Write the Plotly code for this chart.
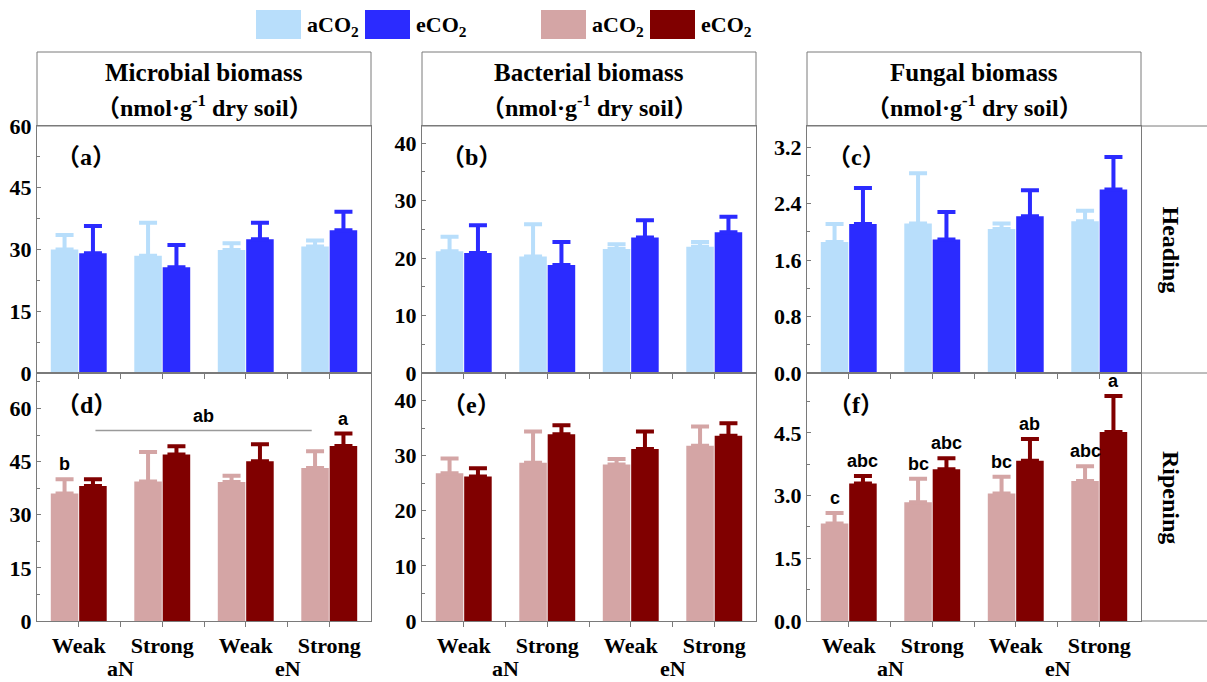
import plotly.graph_objects as go
from plotly.subplots import make_subplots

# ---------------- data ----------------
groups = ["Weak", "Strong", "Weak", "Strong"]
n_levels = ["aN", "eN"]
series_names = ["aCO<sub>2</sub>", "eCO<sub>2</sub>"]
titles = ["Microbial biomass", "Bacterial biomass", "Fungal biomass"]
unit_core = "nmol·g<sup>-1</sup> dry soil"
stages = ["Heading", "Ripening"]
panel_letters = ["a", "b", "c", "d", "e", "f"]

microbial_heading_a = [30.0, 28.5, 29.9, 30.7]
microbial_heading_a_err = [3.5, 8.0, 1.6, 1.5]
microbial_heading_e = [29.1, 25.7, 32.5, 34.7]
microbial_heading_e_err = [6.6, 5.4, 4.0, 4.5]
microbial_ripening_a = [36.0, 39.4, 39.2, 43.2]
microbial_ripening_a_err = [4.0, 8.3, 1.8, 4.7]
microbial_ripening_e = [38.1, 47.0, 45.1, 49.4]
microbial_ripening_e_err = [1.9, 2.3, 4.8, 3.5]

bacterial_heading_a = [21.2, 20.3, 21.6, 22.0]
bacterial_heading_a_err = [2.5, 5.6, 0.8, 0.8]
bacterial_heading_e = [20.9, 18.8, 23.6, 24.5]
bacterial_heading_e_err = [4.8, 4.0, 3.0, 2.7]
bacterial_ripening_a = [26.8, 28.7, 28.4, 31.8]
bacterial_ripening_a_err = [2.7, 5.7, 1.0, 3.5]
bacterial_ripening_e = [26.2, 33.9, 31.2, 33.6]
bacterial_ripening_e_err = [1.5, 1.6, 3.2, 2.3]

fungal_heading_a = [1.855, 2.12, 2.04, 2.15]
fungal_heading_a_err = [0.255, 0.71, 0.08, 0.15]
fungal_heading_e = [2.11, 1.89, 2.22, 2.60]
fungal_heading_e_err = [0.51, 0.39, 0.37, 0.46]
fungal_ripening_a = [2.33, 2.84, 3.05, 3.35]
fungal_ripening_a_err = [0.25, 0.56, 0.40, 0.35]
fungal_ripening_e = [3.29, 3.63, 3.83, 4.52]
fungal_ripening_e_err = [0.18, 0.26, 0.52, 0.86]

# significance letters (panel d and f)
letters_d_a = ["b", "", "", ""]
letters_d_e = ["", "", "", "a"]
letters_f_a = ["c", "bc", "bc", "abc"]
letters_f_e = ["abc", "abc", "ab", "a"]
bracket_d = {"x": [0.2, 2.79], "y": 53.8, "label": "ab"}

y_ranges = [[0, 60], [0, 43], [0, 3.5], [0, 70], [0, 45], [0, 5.93]]
y_dticks = [15, 10, 0.8, 15, 10, 1.5]
y_formats = ["d", "d", ".1f", "d", "d", ".1f"]

# ---------------- style ----------------
W, H = 1207, 682
C_LB, C_B = "#B8DEFB", "#2B2BFF"
C_LR, C_R = "#D4A5A5", "#800000"
AX = "#7a7a7a"
SERIF = "Liberation Serif"
SANS = "Liberation Sans"
CJK = "Noto Sans CJK SC"
BARGAP = 0.32


def cjk(ch):
    return "<span style='font-family:\"%s\"'>%s</span>" % (CJK, ch)


def paren(txt):
    return cjk("（") + txt + cjk("）")


col_px = [(37, 371), (422, 756), (807, 1141)]
row_px = [(126, 373), (373, 621)]
header_top = 52


def px(xp):
    return xp / W


def py(yp):
    return (H - yp) / H


fig = make_subplots(rows=2, cols=3)

panels = [
    (microbial_heading_a, microbial_heading_a_err, microbial_heading_e, microbial_heading_e_err),
    (bacterial_heading_a, bacterial_heading_a_err, bacterial_heading_e, bacterial_heading_e_err),
    (fungal_heading_a, fungal_heading_a_err, fungal_heading_e, fungal_heading_e_err),
    (microbial_ripening_a, microbial_ripening_a_err, microbial_ripening_e, microbial_ripening_e_err),
    (bacterial_ripening_a, bacterial_ripening_a_err, bacterial_ripening_e, bacterial_ripening_e_err),
    (fungal_ripening_a, fungal_ripening_a_err, fungal_ripening_e, fungal_ripening_e_err),
]

xpos = list(range(len(groups)))
for k, (va, ea, ve, ee) in enumerate(panels):
    r = k // 3 + 1
    c = k % 3 + 1
    ca, ce = (C_LB, C_B) if r == 1 else (C_LR, C_R)
    for vals, errs, col in ((va, ea, ca), (ve, ee, ce)):
        fig.add_trace(
            go.Bar(
                x=xpos, y=vals, marker=dict(color=col, line=dict(width=0)),
                error_y=dict(type="data", array=errs, arrayminus=[0] * len(errs),
                             symmetric=False, color=col, thickness=4, width=9),
                showlegend=False,
            ),
            row=r, col=c,
        )

fig.update_layout(barmode="group", bargap=BARGAP, bargroupgap=0.03)

tickfont = dict(family=SERIF, size=22, color="black", weight="bold")
for k in range(6):
    r = k // 3
    c = k % 3
    idx = "" if k == 0 else str(k + 1)
    x0, x1 = col_px[c]
    yt, yb = row_px[r]
    fig.layout["xaxis" + idx].update(
        domain=[px(x0), px(x1)], range=[-0.5, 3.5], tickmode="array",
        tickvals=xpos, ticktext=groups,
        showticklabels=(r == 1), ticks="outside", ticklen=5, tickcolor=AX,
        minor=dict(tickvals=[0.5, 1.5, 2.5], ticks="outside", ticklen=5, tickcolor=AX),
        showline=True, linecolor=AX, linewidth=1, mirror=True, showgrid=False,
        zeroline=False, tickfont=tickfont, fixedrange=True, automargin=False,
    )
    fig.layout["yaxis" + idx].update(
        domain=[py(yb), py(yt)], range=y_ranges[k], dtick=y_dticks[k], tick0=0,
        tickformat=y_formats[k], ticks="inside", ticklen=4, tickcolor=AX,
        minor=dict(dtick=y_dticks[k] / 2, ticks="inside", ticklen=3, tickcolor=AX),
        showline=True, linecolor=AX, linewidth=1, mirror=True, showgrid=False,
        zeroline=False, tickfont=tickfont, fixedrange=True, automargin=False,
    )
    fig.add_annotation(
        text=paren(panel_letters[k]), xref="x" + idx + " domain", yref="y" + idx + " domain",
        x=0.147, y=0.883, showarrow=False, xanchor="center", yanchor="middle",
        font=dict(family=SERIF, size=24, color="black", weight="bold"),
    )

shapes = []
annos = []
for c in range(3):
    x0, x1 = col_px[c]
    shapes.append(dict(type="rect", xref="paper", yref="paper", x0=px(x0), x1=px(x1),
                       y0=py(row_px[0][0]), y1=py(header_top), line=dict(color=AX, width=1)))
    annos.append(dict(text=titles[c], xref="paper", yref="paper", x=px((x0 + x1) / 2), y=py(72),
                      showarrow=False, xanchor="center", yanchor="middle",
                      font=dict(family=SERIF, size=25, color="black", weight="bold")))
    annos.append(dict(text=paren(unit_core), xref="paper", yref="paper", x=px((x0 + x1) / 2),
                      y=py(106), showarrow=False, xanchor="center", yanchor="middle",
                      font=dict(family=SERIF, size=24, color="black", weight="bold")))
    for j, lev in enumerate(n_levels):
        annos.append(dict(text=lev, xref="x%d" % (c + 4), yref="paper", x=0.5 + 2 * j, y=py(668),
                          showarrow=False, xanchor="center", yanchor="middle",
                          font=dict(family=SERIF, size=22, color="black", weight="bold")))

rx0 = col_px[2][1]
for yl in (row_px[0][0], row_px[0][1], row_px[1][1]):
    shapes.append(dict(type="line", xref="paper", yref="paper", x0=px(rx0), x1=1.0,
                       y0=py(yl), y1=py(yl), line=dict(color=AX, width=1)))
for r in range(2):
    yt, yb = row_px[r]
    annos.append(dict(text=stages[r], xref="paper", yref="paper", x=px(1171), y=py((yt + yb) / 2),
                      showarrow=False, textangle=90, xanchor="center", yanchor="middle",
                      font=dict(family=SERIF, size=24, color="black", weight="bold")))

leg = [(256, C_LB, series_names[0]), (365, C_B, series_names[1]),
       (541, C_LR, series_names[0]), (650, C_R, series_names[1])]
for xl, colr, name in leg:
    shapes.append(dict(type="rect", xref="paper", yref="paper", x0=px(xl), x1=px(xl + 45),
                       y0=py(39), y1=py(10), fillcolor=colr, line=dict(width=0)))
    annos.append(dict(text=name, xref="paper", yref="paper", x=px(xl + 49), y=py(26),
                      showarrow=False, xanchor="left", yanchor="middle",
                      font=dict(family=SERIF, size=22, color="black", weight="bold")))

off = (1 - BARGAP) / 4
letter_font = dict(family=SANS, size=18, color="black", weight="bold")
for axis_i, (la, le), (va, ea, ve, ee) in (
    (4, (letters_d_a, letters_d_e), panels[3]),
    (6, (letters_f_a, letters_f_e), panels[5]),
):
    for i in range(len(groups)):
        for lab, v, e, dx in ((la[i], va[i], ea[i], -off), (le[i], ve[i], ee[i], off)):
            if lab:
                annos.append(dict(text=lab, xref="x%d" % axis_i, yref="y%d" % axis_i,
                                  x=xpos[i] + dx, y=v + e, xanchor="center", yanchor="bottom",
                                  yshift=3, showarrow=False, font=letter_font))

shapes.append(dict(type="line", xref="x4", yref="y4", x0=bracket_d["x"][0], x1=bracket_d["x"][1],
                   y0=bracket_d["y"], y1=bracket_d["y"], line=dict(color="#9a9a9a", width=1.5)))
annos.append(dict(text=bracket_d["label"], xref="x4", yref="y4",
                  x=(bracket_d["x"][0] + bracket_d["x"][1]) / 2, y=bracket_d["y"],
                  xanchor="center", yanchor="bottom", yshift=2, showarrow=False, font=letter_font))

for a in annos:
    fig.add_annotation(**a)
for s in shapes:
    fig.add_shape(**s)

fig.update_layout(
    width=W, height=H, margin=dict(l=0, r=0, t=0, b=0, autoexpand=False),
    paper_bgcolor="white", plot_bgcolor="white", showlegend=False,
)

fig.write_html(
    "out.html",
    config={"displayModeBar": False},
    post_script="document.body.style.margin='0';document.body.style.overflow='hidden';",
)
